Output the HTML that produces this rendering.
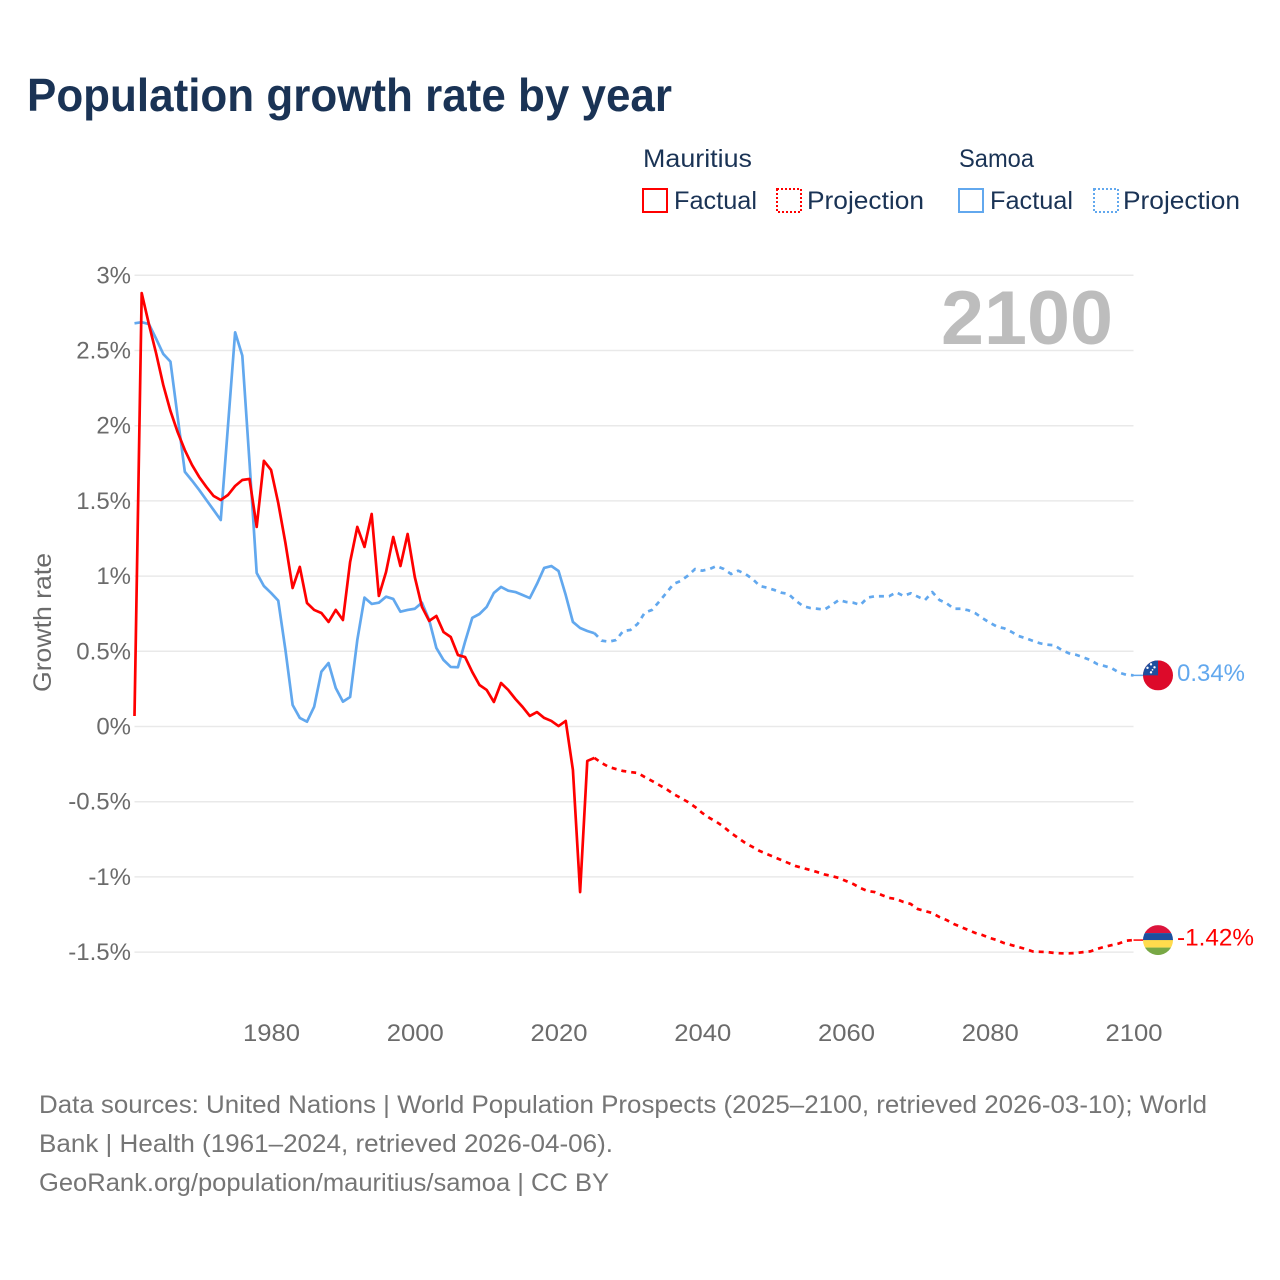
<!DOCTYPE html>
<html lang="en">
<head>
<meta charset="utf-8">
<title>Population growth rate by year</title>
<style>
html,body{margin:0;padding:0;background:#fff;width:1280px;height:1280px;overflow:hidden}
svg{display:block}
text{font-family:"Liberation Sans",sans-serif}
</style>
</head>
<body>
<svg id="chart" xmlns="http://www.w3.org/2000/svg" width="1280" height="1280" viewBox="0 0 1280 1280">
  <rect width="1280" height="1280" fill="#fff"/>
  <text x="27" y="111" font-size="46" font-weight="700" fill="#1a3355" textLength="645" lengthAdjust="spacingAndGlyphs">Population growth rate by year</text>

  <g font-size="25" fill="#1a3355">
    <text x="643" y="167" textLength="109" lengthAdjust="spacingAndGlyphs">Mauritius</text>
    <text x="959" y="167" textLength="75" lengthAdjust="spacingAndGlyphs">Samoa</text>
    <rect x="643" y="189" width="24" height="23" fill="none" stroke="#ff0000" stroke-width="2"/>
    <text x="674" y="209" textLength="83" lengthAdjust="spacingAndGlyphs">Factual</text>
    <rect x="777" y="189" width="24" height="23" fill="none" stroke="#ff0000" stroke-width="2" stroke-dasharray="2 2"/>
    <text x="807" y="209" textLength="117" lengthAdjust="spacingAndGlyphs">Projection</text>
    <rect x="959" y="189" width="24" height="23" fill="none" stroke="#62a8ee" stroke-width="2"/>
    <text x="990" y="209" textLength="83" lengthAdjust="spacingAndGlyphs">Factual</text>
    <rect x="1094" y="189" width="24" height="23" fill="none" stroke="#62a8ee" stroke-width="2" stroke-dasharray="2 2"/>
    <text x="1123" y="209" textLength="117" lengthAdjust="spacingAndGlyphs">Projection</text>
  </g>

  <text transform="translate(51,622.5) rotate(-90)" text-anchor="middle" font-size="25" fill="#6b6b6b" textLength="139" lengthAdjust="spacingAndGlyphs">Growth rate</text>

  <g id="grid"></g>
  <g id="yticks"></g>
  <g id="xticks"></g>

  <text x="941" y="344" font-size="76" font-weight="700" fill="#bdbdbd" textLength="172" lengthAdjust="spacingAndGlyphs">2100</text>

  <g id="series"></g>

  <defs>
    <clipPath id="flag-clip"><circle cx="0" cy="0" r="15"/></clipPath>
  </defs>
  <g id="flag-samoa" clip-path="url(#flag-clip)">
    <rect x="-15" y="-15" width="30" height="30" fill="#dd0a2a"/>
    <rect x="-15" y="-15" width="15" height="15" fill="#1d4f9e"/>
    <g fill="#fff">
      <circle cx="-7" cy="-11" r="1.2"/><circle cx="-10.5" cy="-7.5" r="1.2"/><circle cx="-3.5" cy="-8" r="1.2"/><circle cx="-5.5" cy="-5.5" r="0.9"/><circle cx="-7" cy="-3" r="1.2"/>
    </g>
  </g>
  <g id="flag-mauritius" clip-path="url(#flag-clip)">
    <rect x="-15" y="-15" width="30" height="8" fill="#dc143c"/>
    <rect x="-15" y="-7" width="30" height="7.5" fill="#1d4f9e"/>
    <rect x="-15" y="0" width="30" height="7.5" fill="#ffdb4d"/>
    <rect x="-15" y="7.5" width="30" height="7.5" fill="#78a845"/>
  </g>
  <g id="end-labels"></g>

  <g font-size="25" fill="#757575">
    <text x="39" y="1113" textLength="1168" lengthAdjust="spacingAndGlyphs">Data sources: United Nations | World Population Prospects (2025–2100, retrieved 2026-03-10); World</text>
    <text x="39" y="1152" textLength="574" lengthAdjust="spacingAndGlyphs">Bank | Health (1961–2024, retrieved 2026-04-06).</text>
    <text x="39" y="1191" textLength="570" lengthAdjust="spacingAndGlyphs">GeoRank.org/population/mauritius/samoa | CC BY</text>
  </g>
</svg>
<script>
const yTickValues = [3, 2.5, 2, 1.5, 1, 0.5, 0, -0.5, -1, -1.5];
const yTickLabels = ["3%", "2.5%", "2%", "1.5%", "1%", "0.5%", "0%", "-0.5%", "-1%", "-1.5%"];
const xTickValues = [1980, 2000, 2020, 2040, 2060, 2080, 2100];
const xTickLabels = ["1980", "2000", "2020", "2040", "2060", "2080", "2100"];
const firstFactualYear = 1961;
const firstProjectionYear = 2025;
const mauritiusFactual = [0.070,2.882,2.676,2.483,2.271,2.098,1.958,1.838,1.739,1.659,1.593,1.533,1.506,1.539,1.599,1.639,1.646,1.327,1.766,1.706,1.486,1.220,0.921,1.061,0.821,0.775,0.755,0.695,0.775,0.708,1.094,1.327,1.194,1.413,0.868,1.027,1.260,1.067,1.280,0.994,0.795,0.702,0.735,0.628,0.595,0.475,0.462,0.362,0.276,0.243,0.163,0.289,0.243,0.183,0.130,0.070,0.096,0.057,0.037,0.003,0.037,-0.289,-1.101,-0.229,-0.209];
const mauritiusProjection = [-0.209,-0.243,-0.269,-0.283,-0.296,-0.303,-0.309,-0.336,-0.362,-0.389,-0.416,-0.449,-0.475,-0.502,-0.535,-0.575,-0.608,-0.635,-0.668,-0.708,-0.741,-0.775,-0.801,-0.828,-0.848,-0.868,-0.888,-0.908,-0.928,-0.941,-0.954,-0.968,-0.984,-0.994,-1.007,-1.027,-1.047,-1.074,-1.094,-1.101,-1.121,-1.140,-1.147,-1.167,-1.180,-1.214,-1.227,-1.240,-1.267,-1.287,-1.313,-1.333,-1.353,-1.373,-1.387,-1.406,-1.420,-1.440,-1.453,-1.466,-1.480,-1.496,-1.498,-1.500,-1.506,-1.508,-1.508,-1.506,-1.500,-1.495,-1.478,-1.464,-1.453,-1.442,-1.424,-1.420];
const samoaFactual = [2.681,2.688,2.676,2.579,2.477,2.426,2.060,1.694,1.635,1.573,1.506,1.440,1.373,1.994,2.621,2.466,1.759,1.021,0.934,0.888,0.837,0.509,0.143,0.057,0.032,0.132,0.364,0.422,0.256,0.165,0.196,0.575,0.857,0.815,0.823,0.863,0.848,0.763,0.775,0.783,0.823,0.708,0.522,0.442,0.396,0.394,0.564,0.723,0.748,0.795,0.888,0.928,0.903,0.894,0.874,0.854,0.948,1.054,1.067,1.034,0.874,0.695,0.655,0.635,0.620];
const samoaProjection = [0.620,0.571,0.564,0.575,0.635,0.642,0.682,0.757,0.775,0.830,0.888,0.948,0.968,1.003,1.047,1.036,1.047,1.067,1.047,1.014,1.036,1.014,0.981,0.934,0.923,0.908,0.890,0.881,0.837,0.801,0.788,0.783,0.777,0.808,0.841,0.828,0.823,0.808,0.857,0.866,0.866,0.866,0.892,0.868,0.886,0.863,0.841,0.894,0.841,0.819,0.783,0.783,0.773,0.753,0.720,0.690,0.664,0.653,0.630,0.602,0.587,0.569,0.553,0.544,0.540,0.509,0.487,0.477,0.460,0.442,0.414,0.402,0.387,0.358,0.344,0.340];
const endValueLabels = ["-1.42%", "0.34%"];

const NS = "http://www.w3.org/2000/svg";
const RED = "#ff0000";
const BLUE = "#62a8ee";
const PLOT_LEFT = 134.5;
const PLOT_RIGHT = 1133.5;
const Y_ZERO = 726.5;
const PX_PER_PERCENT = 150.4;

function xScale(year) {
  return PLOT_LEFT + (year - 1961) * (PLOT_RIGHT - PLOT_LEFT) / (2100 - 1961);
}
function yScale(value) {
  return Y_ZERO - value * PX_PER_PERCENT;
}
function make(tag, parent) {
  const el = document.createElementNS(NS, tag);
  parent.appendChild(el);
  return el;
}
function linePoints(startYear, values) {
  return values.map(function (v, i) {
    return xScale(startYear + i).toFixed(2) + "," + yScale(v).toFixed(2);
  }).join(" ");
}

const gridGroup = document.getElementById("grid");
const yTickGroup = document.getElementById("yticks");
yTickValues.forEach(function (v, i) {
  const line = make("line", gridGroup);
  
  
  line.setAttribute("x1", PLOT_LEFT);
  line.setAttribute("x2", PLOT_RIGHT);
  line.setAttribute("y1", yScale(v));
  line.setAttribute("y2", yScale(v));
  line.setAttribute("stroke", "#e9e9e9");
  line.setAttribute("stroke-width", "1.5");
  const label = make("text", yTickGroup);
  
  
  label.setAttribute("x", 131);
  label.setAttribute("y", yScale(v) + 8);
  label.setAttribute("text-anchor", "end");
  label.setAttribute("font-size", "24");
  label.setAttribute("fill", "#6b6b6b");
  label.textContent = yTickLabels[i];
});

const xTickGroup = document.getElementById("xticks");
xTickValues.forEach(function (year, i) {
  const label = make("text", xTickGroup);
  
  
  label.setAttribute("x", xScale(year) + 0.5);
  label.setAttribute("y", 1041);
  label.setAttribute("text-anchor", "middle");
  label.setAttribute("font-size", "24");
  label.setAttribute("fill", "#6b6b6b");
  label.setAttribute("textLength", "57");
  label.setAttribute("lengthAdjust", "spacingAndGlyphs");
  label.textContent = xTickLabels[i];
});

const seriesGroup = document.getElementById("series");
function addLine(name, startYear, values, color, dashed) {
  const line = make("polyline", seriesGroup);
  
  
  line.setAttribute("points", linePoints(startYear, values));
  line.setAttribute("fill", "none");
  line.setAttribute("stroke", color);
  line.setAttribute("stroke-width", "2.7");
  line.setAttribute("stroke-linejoin", "round");
  if (dashed) {
    line.setAttribute("stroke-dasharray", "5 5");
  }
}
addLine('samoa-factual-line', firstFactualYear, samoaFactual, BLUE, false);
addLine('samoa-projection-line', firstProjectionYear, samoaProjection, BLUE, true);
addLine('mauritius-factual-line', firstFactualYear, mauritiusFactual, RED, false);
addLine('mauritius-projection-line', firstProjectionYear, mauritiusProjection, RED, true);

const FLAG_X = 1158;
const endLabelGroup = document.getElementById("end-labels");
function addEnd(values, color, flagId, printed, labelWidth, leaderName, labelName) {
  const endValue = values[values.length - 1];
  const y = yScale(endValue);
  const leader = make("line", seriesGroup);
  
  
  leader.setAttribute("x1", PLOT_RIGHT);
  leader.setAttribute("x2", FLAG_X - 14);
  leader.setAttribute("y1", y);
  leader.setAttribute("y2", y);
  leader.setAttribute("stroke", color);
  leader.setAttribute("stroke-width", "1.5");
  document.getElementById(flagId).setAttribute("transform", "translate(" + FLAG_X + "," + y.toFixed(2) + ")");
  const label = make("text", endLabelGroup);
  
  
  label.setAttribute("x", 1177);
  label.setAttribute("y", y + 5.5);
  label.setAttribute("font-size", "24");
  label.setAttribute("fill", color);
  label.setAttribute("textLength", labelWidth);
  label.setAttribute("lengthAdjust", "spacingAndGlyphs");
  label.textContent = printed;
}
addEnd(mauritiusProjection, RED, "flag-mauritius", endValueLabels[0], "77", 'mauritius-end-leader', 'mauritius-end-value');
addEnd(samoaProjection, BLUE, "flag-samoa", endValueLabels[1], "68", 'samoa-end-leader', 'samoa-end-value');
</script>
</body>
</html>
